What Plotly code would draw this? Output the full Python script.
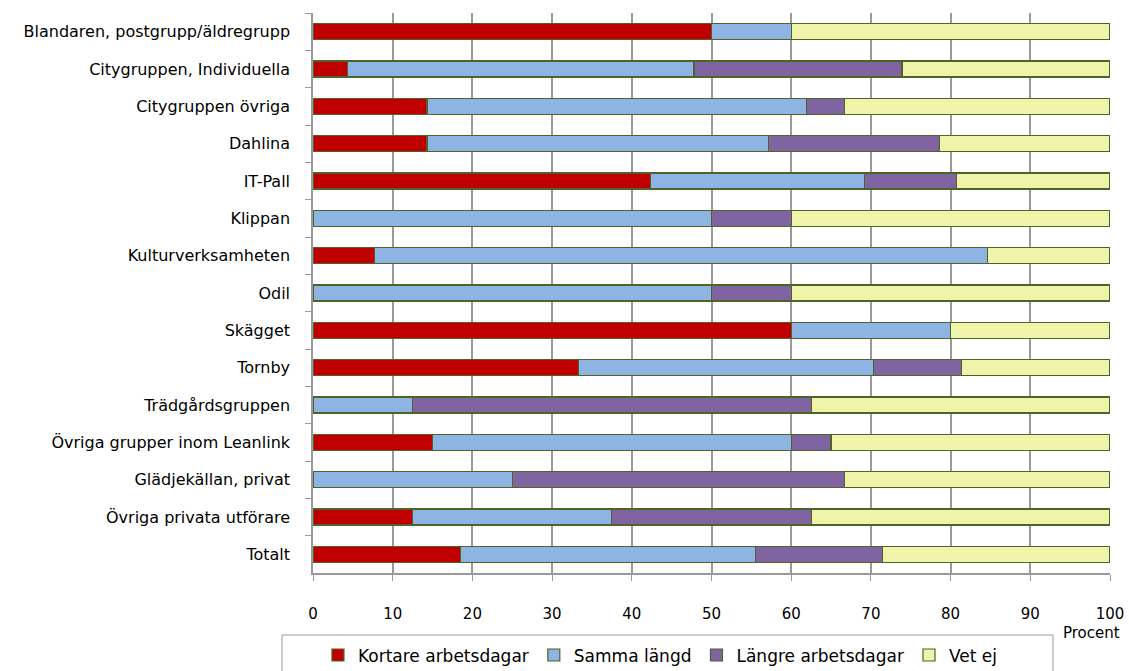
import plotly.graph_objects as go

categories = [
    "Blandaren, postgrupp/äldregrupp",
    "Citygruppen, Individuella",
    "Citygruppen övriga",
    "Dahlina",
    "IT-Pall",
    "Klippan",
    "Kulturverksamheten",
    "Odil",
    "Skägget",
    "Tornby",
    "Trädgårdsgruppen",
    "Övriga grupper inom Leanlink",
    "Glädjekällan, privat",
    "Övriga privata utförare",
    "Totalt",
]

kortare = [50.0, 4.3, 14.3, 14.3, 42.3, 0.0, 7.7, 0.0, 60.0, 33.3, 0.0, 15.0, 0.0, 12.5, 18.5]
samma   = [10.0, 43.5, 47.6, 42.9, 26.9, 50.0, 76.9, 50.0, 20.0, 37.0, 12.5, 45.0, 25.0, 25.0, 37.0]
langre  = [0.0, 26.1, 4.8, 21.4, 11.5, 10.0, 0.0, 10.0, 0.0, 11.1, 50.0, 5.0, 41.7, 25.0, 16.0]
vetej   = [40.0, 26.1, 33.3, 21.4, 19.2, 40.0, 15.4, 40.0, 20.0, 18.5, 37.5, 35.0, 33.3, 37.5, 28.5]

series_names = ["Kortare arbetsdagar", "Samma längd", "Längre arbetsdagar", "Vet ej"]
series_values = [kortare, samma, langre, vetej]
series_colors = ["#C00000", "#8DB4E2", "#8064A2", "#F0F3AA"]

x_ticks = [0, 10, 20, 30, 40, 50, 60, 70, 80, 90, 100]

FONT = "'DejaVu Sans', sans-serif"

fig = go.Figure()
for name, vals, col in zip(series_names, series_values, series_colors):
    fig.add_trace(go.Bar(
        y=categories, x=vals, name=name, orientation="h",
        marker=dict(color=col, line=dict(color="#4F6228", width=1.2)),
    ))

fig.update_layout(
    barmode="stack",
    bargap=0.57,
    width=1129, height=671,
    margin=dict(l=313, r=19, t=13, b=98, autoexpand=False),
    plot_bgcolor="white", paper_bgcolor="white",
    font=dict(family=FONT, size=16, color="black"),
    legend=dict(
        orientation="h", xref="container", yref="container",
        x=0.585, xanchor="center", y=0.05, yanchor="top",
        font=dict(size=17), traceorder="normal",
        bgcolor="rgba(0,0,0,0)", itemwidth=30,
    ),
    xaxis=dict(
        range=[0, 100], tickvals=x_ticks, showgrid=True, gridcolor="#9A9A9A", gridwidth=1.5,
        showline=True, linecolor="#9A9A9A", linewidth=1.5, ticks="outside", ticklen=6,
        tickcolor="#9A9A9A", ticklabelstandoff=20, zeroline=False, tickfont=dict(size=15),
        automargin=False,
    ),
    yaxis=dict(
        categoryorder="array", categoryarray=categories, autorange="reversed",
        showline=True, linecolor="#9A9A9A", linewidth=1.5, ticks="outside", ticklen=6,
        tickcolor="#9A9A9A", tickson="boundaries", ticklabelstandoff=18, showgrid=False,
        automargin=False,
    ),
    shapes=[dict(
        type="rect", xref="paper", yref="paper",
        x0=-0.0389, x1=0.9285, y0=-0.1107, y1=-0.2,
        line=dict(color="#9A9A9A", width=1), fillcolor="rgba(0,0,0,0)", layer="below",
    )],
    annotations=[dict(
        text="Procent", xref="paper", yref="paper", x=0.977, y=-0.108,
        xanchor="center", yanchor="middle", showarrow=False, font=dict(size=15),
    )],
)

fig.write_html(
    "out.html",
    config={"displayModeBar": False},
    post_script="document.body.style.margin='0';document.body.style.overflow='hidden';",
)
